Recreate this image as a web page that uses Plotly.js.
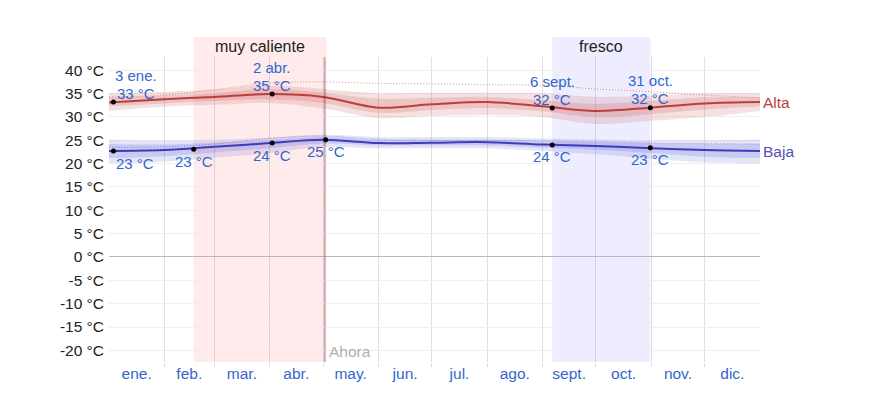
<!DOCTYPE html>
<html>
<head>
<meta charset="utf-8">
<script src="https://cdn.plot.ly/plotly-3.0.1.min.js"></script>
<style>html,body{margin:0;padding:0;background:#fff;}#chart{width:870px;height:408px;}</style>
</head>
<body>
<div id="chart"></div>
<script>
// Day-of-year sample positions (month boundaries)
const days = [0, 31, 59, 90, 120, 151, 181, 212, 243, 273, 304, 334, 365];
// Average daily high and percentile bands (°C)
const highAvg = [33.1, 33.8, 34.3, 34.9, 34.3, 32.0, 32.7, 33.2, 32.3, 31.3, 32.0, 32.9, 33.2];
const highP90 = [35.1, 35.4, 35.9, 36.8, 36.0, 35.1, 35.2, 35.2, 35.1, 34.3, 34.6, 35.1, 35.1];
const highP75 = [34.2, 34.6, 35.1, 36.0, 35.2, 33.9, 34.1, 34.3, 33.6, 32.8, 33.4, 34.2, 34.2];
const highP25 = [32.3, 32.9, 33.4, 33.8, 33.0, 30.9, 31.5, 31.9, 31.2, 29.9, 30.6, 31.6, 32.3];
const highP10 = [31.3, 32.2, 32.6, 33.0, 31.8, 29.8, 30.2, 30.4, 30.0, 28.5, 29.2, 30.0, 31.3];
const highFeel = [34.3, 34.7, 35.8, 37.3, 37.5, 37.2, 37.1, 36.9, 36.8, 36.0, 35.4, 34.7, 34.1];
// Average daily low and percentile bands (°C)
const lowAvg = [22.7, 22.9, 23.6, 24.4, 25.1, 24.4, 24.5, 24.6, 24.1, 23.8, 23.3, 22.9, 22.7];
const lowP90 = [25.1, 24.9, 25.1, 25.6, 26.2, 25.7, 25.7, 25.7, 25.4, 25.2, 25.0, 25.0, 25.1];
const lowP75 = [24.2, 24.1, 24.5, 25.1, 25.7, 25.1, 25.1, 25.1, 24.8, 24.6, 24.3, 24.2, 24.2];
const lowP25 = [21.2, 21.6, 22.4, 23.3, 24.3, 23.9, 23.9, 23.9, 23.4, 23.0, 22.3, 21.5, 21.2];
const lowP10 = [20.1, 20.4, 21.3, 22.3, 23.6, 23.3, 23.3, 23.3, 22.7, 22.0, 21.0, 20.3, 20.1];
const lowFeel = [23.5, 23.6, 24.2, 25.4, 25.9, 25.2, 25.0, 25.0, 24.9, 24.7, 24.4, 24.3, 24.2];
// Highlighted points
const hiPtDays = [2.5, 91.5, 248.5, 303.5];
const hiPtVals = [33.2, 34.9, 31.9, 32.0];
const hiPtDates = ["3 ene.", "2 abr.", "6 sept.", "31 oct."];
const loPtDays = [2.5, 47.5, 91.5, 121.5, 248.5, 303.5];
const loPtVals = [22.7, 23.1, 24.4, 25.1, 24.0, 23.4];
// Axis labels
const monthMid = [15.5, 45, 74.5, 105, 135.5, 166, 196.5, 227.5, 258, 288.5, 319, 349.5];
const monthNames = ["ene.", "feb.", "mar.", "abr.", "may.", "jun.", "jul.", "ago.", "sept.", "oct.", "nov.", "dic."];
const monthBounds = [31, 59, 90, 120, 151, 181, 212, 243, 273, 304, 334];
const yTicks = [-20, -15, -10, -5, 0, 5, 10, 15, 20, 25, 30, 35, 40];
const yTickText = ["-20 °C", "-15 °C", "-10 °C", "-5 °C", "0 °C", "5 °C", "10 °C", "15 °C", "20 °C", "25 °C", "30 °C", "35 °C", "40 °C"];
// Seasons and current day
const hotSeason = {label: "muy caliente", start: 47.5, end: 122};
const coolSeason = {label: "fresco", start: 248.5, end: 303.5};
const nowDay = 121;

const FONT = "Arial, 'Liberation Sans', sans-serif";
const FS = 15.5;
const AFS = 15;
const BLUE = "#3366cc";
const RED = "rgb(190,60,60)";
const NAVY = "rgb(60,60,190)";

function band(upper, lower, color) {
  return [
    {x: days, y: upper, mode: "lines", line: {width: 0, shape: "spline"}, hoverinfo: "skip", showlegend: false},
    {x: days, y: lower, mode: "lines", line: {width: 0, shape: "spline"}, fill: "tonexty", fillcolor: color, hoverinfo: "skip", showlegend: false}
  ];
}

const traces = [].concat(
  band(highP90, highP10, "rgba(200,80,80,0.17)"),
  band(highP75, highP25, "rgba(200,80,80,0.2)"),
  band(lowP90, lowP10, "rgba(80,80,210,0.15)"),
  band(lowP75, lowP25, "rgba(80,80,210,0.18)"),
  [
    {x: days, y: highFeel, mode: "lines", line: {color: "rgba(200,70,70,0.6)", width: 1, dash: "1px,2px", shape: "spline"}, showlegend: false},
    {x: days, y: lowFeel, mode: "lines", line: {color: "rgba(80,80,200,0.6)", width: 1, dash: "1px,2px", shape: "spline"}, showlegend: false},
    {x: days, y: highAvg, mode: "lines", line: {color: RED, width: 2, shape: "spline"}, showlegend: false},
    {x: days, y: lowAvg, mode: "lines", line: {color: NAVY, width: 2, shape: "spline"}, showlegend: false},
    {x: hiPtDays, y: hiPtVals, mode: "markers", marker: {color: "#000", size: 5}, showlegend: false},
    {x: loPtDays, y: loPtVals, mode: "markers", marker: {color: "#000", size: 5}, showlegend: false}
  ]
);

const annotations = [];
hiPtDays.forEach((d, i) => {
  const xs = i === 0 ? 23 : 0;
  annotations.push({x: d, y: hiPtVals[i], text: Math.round(hiPtVals[i]) + " °C", showarrow: false, xshift: xs, yshift: 9, yanchor: "middle", borderpad: 0, font: {family: FONT, size: AFS, color: BLUE}});
  annotations.push({x: d, y: hiPtVals[i], text: hiPtDates[i], showarrow: false, xshift: xs, yshift: 27, yanchor: "middle", borderpad: 0, font: {family: FONT, size: AFS, color: BLUE}});
});
loPtDays.forEach((d, i) => {
  const xs = i === 0 ? 22 : 0;
  annotations.push({x: d, y: loPtVals[i], text: Math.round(loPtVals[i]) + " °C", showarrow: false, xshift: xs, yshift: -12, yanchor: "middle", borderpad: 0, font: {family: FONT, size: AFS, color: BLUE}});
});
annotations.push({x: days[days.length - 1], y: highAvg[highAvg.length - 1], text: "Alta", xanchor: "left", yanchor: "middle", xshift: 1, showarrow: false, font: {family: FONT, size: FS, color: RED}});
annotations.push({x: days[days.length - 1], y: lowAvg[lowAvg.length - 1], text: "Baja", xanchor: "left", yanchor: "middle", xshift: 1, showarrow: false, font: {family: FONT, size: FS, color: "rgb(80,80,180)"}});
[hotSeason, coolSeason].forEach(s => {
  annotations.push({x: (s.start + s.end) / 2, y: 1.033, yref: "paper", yanchor: "middle", text: s.label, showarrow: false, font: {family: FONT, size: 16, color: "#222"}});
});
annotations.push({x: nowDay, y: 0.036, yref: "paper", yanchor: "middle", text: "Ahora", xanchor: "left", xshift: 2, showarrow: false, font: {family: FONT, size: FS, color: "#b0b0b0"}});

const shapes = [
  {type: "rect", xref: "x", yref: "paper", x0: hotSeason.start, x1: hotSeason.end, y0: 0, y1: 1.0656, fillcolor: "rgba(255,0,0,0.08)", line: {width: 0}, layer: "below"},
  {type: "rect", xref: "x", yref: "paper", x0: coolSeason.start, x1: coolSeason.end, y0: 0, y1: 1.0656, fillcolor: "rgba(60,60,255,0.09)", line: {width: 0}, layer: "below"},
  {type: "line", xref: "x", yref: "paper", x0: nowDay, x1: nowDay, y0: 0, y1: 1, line: {color: "rgba(0,0,0,0.22)", width: 2}, layer: "above"}
];

const layout = {
  width: 870, height: 408,
  margin: {l: 109, r: 110, t: 57, b: 46, pad: 0},
  paper_bgcolor: "#fff", plot_bgcolor: "rgba(0,0,0,0)",
  font: {family: FONT, size: FS, color: "#222"},
  xaxis: {
    range: [0, 365], tickmode: "array", tickvals: monthMid, ticktext: monthNames,
    showgrid: false, zeroline: false, showline: false, ticks: "",
    tickfont: {family: FONT, size: FS, color: BLUE},
    minor: {tickmode: "array", tickvals: monthBounds, showgrid: true, gridcolor: "rgba(0,0,0,0.12)", gridwidth: 1, ticks: "outside", ticklen: 4, tickcolor: "rgba(0,0,0,0.12)"},
    fixedrange: true
  },
  yaxis: {
    range: [-22.5, 42.85], tickmode: "array", tickvals: yTicks, ticktext: yTickText,
    showgrid: true, gridcolor: "#eeeeee", gridwidth: 1,
    zeroline: true, zerolinecolor: "#b8b8b8", zerolinewidth: 1,
    showline: false, ticks: "", ticklabelstandoff: 4,
    tickfont: {family: FONT, size: FS, color: "#222"},
    fixedrange: true
  },
  shapes: shapes,
  annotations: annotations,
  showlegend: false,
  hovermode: false
};

Plotly.newPlot("chart", traces, layout, {displayModeBar: false, staticPlot: true});
</script>
</body>
</html>
